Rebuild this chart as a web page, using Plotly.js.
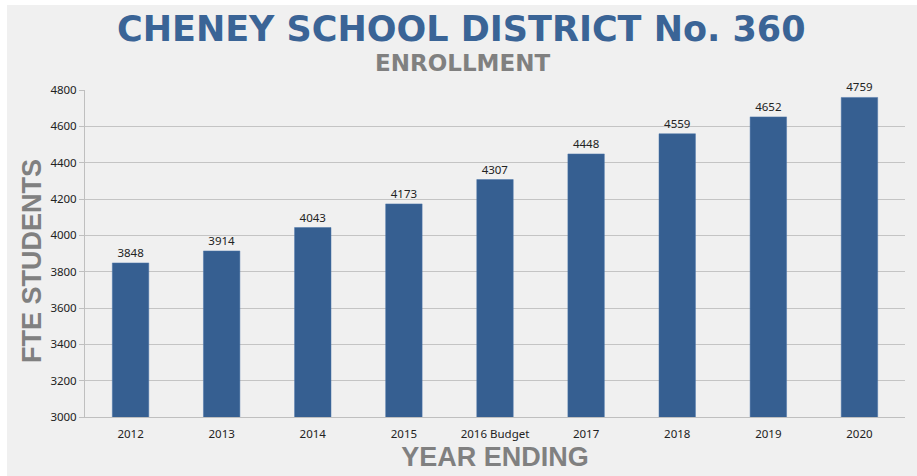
<!DOCTYPE html>
<html>
<head>
<meta charset="utf-8">
<script src="https://cdn.plot.ly/plotly-3.0.1.min.js"></script>
<style>
html,body{margin:0;padding:0;background:#ffffff;width:917px;height:476px;overflow:hidden;}
#chart{position:absolute;left:7px;top:5px;width:910px;height:471px;}
</style>
</head>
<body>
<div id="chart"></div>
<script>
const categories = ["2012","2013","2014","2015","2016 Budget","2017","2018","2019","2020"];
const enrollment = [3848,3914,4043,4173,4307,4448,4559,4652,4759];
const yTicks = [3000,3200,3400,3600,3800,4000,4200,4400,4600,4800];

const tickFont = {family: "Noto Sans, DejaVu Sans, sans-serif", size: 11.5, color: "#222222"};

const trace = {
  type: "bar",
  x: categories,
  y: enrollment,
  width: 0.4,
  marker: {color: "#365f91", line: {color: "#4a74a8", width: 0.5}},
  text: enrollment.map(String),
  textposition: "outside",
  cliponaxis: false,
  textfont: tickFont,
  hoverinfo: "skip"
};

const W = 910, H = 471, L = 78, R = 12, T = 85, B = 59;
const plotW = W - L - R, plotH = H - T - B;
// helpers: convert div pixel position to paper fraction
const px = (x) => (x - L) / plotW;
const py = (y) => 1 - (y - T) / plotH;

const layout = {
  width: W,
  height: H,
  paper_bgcolor: "#f0f0f0",
  plot_bgcolor: "#f0f0f0",
  margin: {l: L, r: R, t: T, b: B},
  showlegend: false,
  xaxis: {
    type: "category",
    showgrid: false,
    showline: true,
    linecolor: "#bfbfbf",
    linewidth: 1,
    ticks: "outside",
    ticklen: 6,
    tickcolor: "rgba(0,0,0,0)",
    tickfont: tickFont,
    title: {text: "YEAR ENDING", standoff: 7, font: {family: "Liberation Sans, Arial, sans-serif", size: 27, weight: "bold", color: "#808080"}}
  },
  yaxis: {
    range: [3000, 4800],
    tickvals: yTicks,
    ticktext: yTicks.map(String),
    showgrid: true,
    gridcolor: "#c4c4c4",
    gridwidth: 1,
    zeroline: false,
    showline: true,
    linecolor: "#bfbfbf",
    ticks: "outside",
    ticklen: 5,
    tickcolor: "#bfbfbf",
    tickfont: tickFont
  },
  annotations: [
    {text: "CHENEY SCHOOL DISTRICT No. 360", xref: "paper", yref: "paper",
     x: px(454), y: py(24),
     xanchor: "center", yanchor: "middle", showarrow: false,
     font: {family: "DejaVu Sans, sans-serif", size: 35, weight: "bold", color: "#3a6496"}},
    {text: "ENROLLMENT", xref: "paper", yref: "paper",
     x: px(455), y: py(58),
     xanchor: "center", yanchor: "middle", showarrow: false,
     font: {family: "DejaVu Sans, sans-serif", size: 23, weight: "bold", color: "#808080"}},
    {text: "FTE STUDENTS", xref: "paper", yref: "paper",
     x: px(25), y: py(256), textangle: -90,
     xanchor: "center", yanchor: "middle", showarrow: false,
     font: {family: "Liberation Sans, Arial, sans-serif", size: 27, weight: "bold", color: "#808080"}}
  ]
};

Plotly.newPlot("chart", [trace], layout, {displayModeBar: false, staticPlot: true});
</script>
</body>
</html>
